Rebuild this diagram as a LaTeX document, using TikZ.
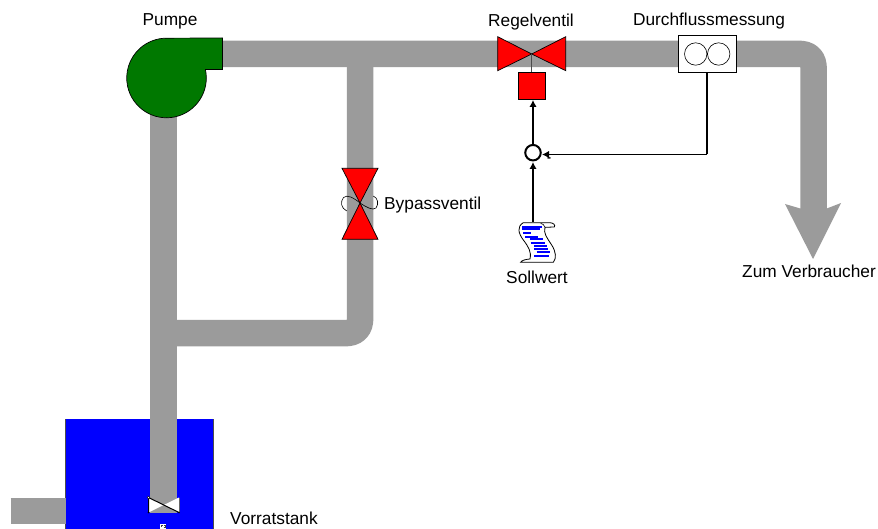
\documentclass[tikz,border=0pt]{standalone}
\usepackage{fontspec}
\setmainfont{Liberation Sans}
\usetikzlibrary{arrows.meta}
\definecolor{pipegray}{RGB}{155,155,155}
\definecolor{pumpgreen}{RGB}{0,120,0}
\tikzset{
  pipe/.style={draw=pipegray,line width=26.5pt,line join=round},
  lbl/.style={font=\fontsize{17.3}{19}\selectfont,inner sep=0pt,text=black},
  sig/.style={draw=black,line width=1.7pt,-{Latex[length=7pt,width=7.5pt]}},
  valve/.style={draw=black,fill=red,line width=0.7pt,line join=miter},
}
\begin{document}
\begin{tikzpicture}[x=1pt,y=-1pt]
\useasboundingbox (0,0) rectangle (878,529);
% tank
\fill[blue] (65.5,419) rectangle (213,529);
\draw[black!70,line width=0.6pt] (65.5,529) -- (65.5,419) (213,419) -- (213,529);
\coordinate (pipeTop) at (163.5,70);
\coordinate (tankEnd) at (163.5,512.5);
\coordinate (inA) at (10.5,511);
\coordinate (inB) at (66,511);
\draw[pipe] (inA) -- (inB);
% valve bowtie
\coordinate (vTL) at (148.5,497.5);
\coordinate (vBL) at (148.5,512.5);
\coordinate (vTR) at (179,497.5);
\coordinate (vBR) at (179,512.5);
\draw[pipe] (pipeTop) -- (tankEnd);
\fill[white] (vTL) -- (163.7,505) -- (vBL) -- cycle;
\fill[white] (vTR) -- (163.7,505) -- (vBR) -- cycle;
\draw[black,line width=1pt] (vTL) -- (vBL) (vTL) -- (vBR);
\draw[black!60,line width=0.6pt] (vTR) -- (vBR);
\fill[black] (vBL) circle (0.8) (vBR) circle (0.8);
\filldraw[fill=white,draw=black,line width=0.4pt] (vTL) circle (1.4);
\node[fill=white,inner sep=0pt,minimum width=6.5pt,minimum height=5pt] (tag) at (163,526) {};
\draw[black!75,line width=0.7pt] (161,527) -- (161,525) -- (162.5,525) (163.7,527.3) -- (165.4,527.3) -- (165.4,525) -- (163.7,525);
\coordinate (mainStart) at (200,54);
\coordinate (cornerOut) at (813.5,54);
\coordinate (shaftEnd) at (813.5,215);
\draw[pipe,rounded corners=12pt] (mainStart) -- (cornerOut) -- (shaftEnd);
\draw[pipe,rounded corners=12pt] (360,54) -- (360,333) -- (163.5,333);
\fill[pipegray] (785,204) -- (800.3,208.5) -- (826.7,208.5) -- (841,203) -- (813,259) -- cycle;
% pump
\filldraw[fill=pumpgreen,draw=black,line width=0.7pt] (222.5,38) -- (222.5,69.5) -- (205.4,69.5)
  arc[start angle=-12.3,end angle=270,radius=39.8] -- cycle;
% bypass valve
\node[coordinate] (byC) at (360,203) {};
\filldraw[valve] (342,168.3) -- (378,168.3) -- (byC) -- (378,239.3) -- (342,239.3) -- (byC) -- cycle;
\draw[black,line width=0.6pt] (byC) .. controls (354,198) and (347,194) .. (343.5,197.5)
  .. controls (340,202) and (341,208) .. (346.7,211);
\draw[black,line width=0.6pt] (byC) .. controls (366,207) and (373,211) .. (376,208)
  .. controls (379,204) and (378,198) .. (373.3,196);
% regel valve
\node[coordinate] (rgC) at (531.7,54) {};
\filldraw[valve] (497.7,36.7) -- (497.7,70.7) -- (rgC) -- (565.7,36.7) -- (565.7,70.7) -- (rgC) -- cycle;
\node[draw=black,fill=red,line width=0.7pt,minimum width=26.5pt,minimum height=27pt,inner sep=0pt] (act) at (531.7,85.8) {};
\draw[black!70,line width=0.6pt] (rgC) -- (act.north);
% meter
\node[draw=black,fill=white,line width=0.7pt,minimum width=58.3pt,minimum height=37pt,inner sep=0pt] (meter) at (707.2,53.8) {};
\draw[black,line width=0.6pt] (695.7,54) circle (11.2) (718.7,54) circle (11.2);
% sum
\node[circle,draw=black,fill=white,line width=2pt,minimum size=15.5pt,inner sep=0pt] (sum) at (533,152.7) {};
\coordinate (fbk) at (707.3,154.5);
\draw[sig,-] (meter.south -| fbk) -- (fbk);
\draw[sig] (fbk) -- (542,154.5);
\draw[sig] (533,144.5) -- (533,100);
\coordinate (scrollTop) at (533,222);
\draw[sig] (scrollTop) -- (533,162);
\node[font=\fontsize{12}{12}\selectfont\bfseries,inner sep=0pt] (minus) at (549,160) {-};
% scroll
\begin{scope}[shift={(490,130)},x=0.3333pt,y=-0.3333pt]
\filldraw[fill=white,draw=black,line width=0.8pt]
  (100,278) -- (178,278) .. controls (190,278) and (197,285) .. (193,291) -- (165,292)
  .. controls (160,310) and (170,322) .. (185,345) .. controls (198,365) and (200,385) .. (190,397)
  -- (92,397) .. controls (95,390) and (110,388) .. (120,387)
  .. controls (125,365) and (115,350) .. (100,330) .. controls (85,310) and (80,290) .. (100,278) -- cycle;
\draw[black,line width=0.6pt] (165,292) .. controls (163,284) and (158,282) .. (152,280);
\draw[blue,line width=1.9pt]
  (97,290) -- (155,290) (97,298) -- (150,298) (100,309) -- (122,309) (105,320) -- (145,320)
  (120,327) -- (160,327) (122,338) -- (165,338) (132,347) -- (172,347) (132,356) -- (175,356)
  (140,367) -- (180,367) (132,378) -- (177,378);
\end{scope}
% labels
\node[lbl] (tPumpe) at (170,21.5) {Pumpe};
\node[lbl] (tRegel) at (531,22.5) {Regelventil};
\node[lbl] (tDurch) at (709,21.5) {Durchflussmessung};
\node[lbl,anchor=west] (tBypass) at (384,205) {Bypassventil};
\node[lbl] (tSoll) at (537,277.5) {Sollwert};
\node[lbl] (tZum) at (809,271.5) {Zum Verbraucher};
\node[lbl,anchor=west] (tVorrat) at (230,518.5) {Vorratstank};
\end{tikzpicture}
\end{document}
